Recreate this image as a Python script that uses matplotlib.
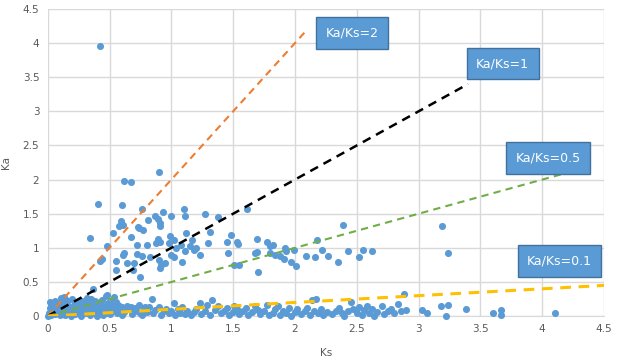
import numpy as np
import matplotlib
matplotlib.use("Agg")
import matplotlib.pyplot as plt
from matplotlib.ticker import MultipleLocator, FormatStrFormatter

# (Ks, Ka) points
# upper cloud, Ka roughly 0.6 - 4
high_points = [
    (0.42, 3.96), (0.90, 2.11), (0.62, 1.98), (0.67, 1.97),
    (0.41, 1.64), (0.60, 1.63), (0.76, 1.57), (0.34, 1.15),
    (0.59, 1.39), (0.61, 1.34), (0.58, 1.32), (0.53, 1.22),
    (0.48, 1.03), (0.44, 0.83), (0.42, 0.81), (0.55, 0.81),
    (0.55, 0.68), (0.62, 0.93), (0.61, 0.90), (0.64, 0.78),
    (0.67, 1.16), (0.72, 1.04), (0.73, 1.31), (0.74, 1.29),
    (0.77, 1.26), (0.72, 0.91), (0.76, 0.88), (0.70, 0.78),
    (0.69, 0.68), (0.75, 0.57), (0.81, 1.41), (0.80, 1.04),
    (0.83, 0.86), (0.87, 1.47), (0.89, 1.42), (0.91, 1.36),
    (0.91, 1.32), (0.93, 1.53), (1.00, 1.47), (0.89, 1.13),
    (0.91, 1.08), (0.88, 1.07), (0.90, 0.82), (0.92, 0.75),
    (0.91, 0.70), (0.95, 0.78), (0.98, 1.07), (0.99, 1.17),
    (1.02, 1.12), (1.04, 1.00), (1.00, 0.90), (1.02, 0.86),
    (1.10, 1.57), (1.11, 1.47), (1.08, 1.04), (1.09, 0.80),
    (1.12, 1.22), (1.11, 0.95), (1.15, 1.03), (1.17, 1.12),
    (1.18, 0.97), (1.20, 1.00), (1.23, 0.90), (1.27, 1.49),
    (1.30, 1.07), (1.31, 1.23), (1.38, 1.45), (1.48, 1.19),
    (1.45, 1.09), (1.46, 0.93), (1.53, 1.09), (1.54, 1.05),
    (1.51, 0.75), (1.55, 0.75), (1.61, 1.57), (1.69, 1.13),
    (1.69, 0.94), (1.68, 0.92), (1.70, 0.64), (1.77, 1.09),
    (1.80, 1.03), (1.82, 1.04), (1.80, 0.93), (1.84, 0.90),
    (1.88, 0.88), (1.91, 0.83), (1.92, 1.00), (1.93, 0.95),
    (1.97, 0.80), (1.99, 0.97), (2.01, 0.74), (2.09, 0.88),
    (2.16, 0.86), (2.18, 1.12), (2.39, 1.34), (2.22, 0.97),
    (2.27, 0.88), (2.35, 0.80), (2.43, 0.95), (2.52, 0.86),
    (2.55, 0.97), (2.62, 0.95), (3.19, 1.32), (3.24, 0.93),
]

# lower band, Ka roughly 0 - 0.4
low_points = [
    (0.00, 0.00), (0.01, 0.05), (0.02, 0.12), (0.02, 0.21), (0.03, 0.02),
    (0.04, 0.08), (0.05, 0.15), (0.06, 0.03), (0.07, 0.10), (0.08, 0.18),
    (0.09, 0.05), (0.10, 0.13), (0.10, 0.01), (0.11, 0.26), (0.12, 0.07),
    (0.13, 0.28), (0.13, 0.16), (0.14, 0.02), (0.15, 0.10), (0.16, 0.20),
    (0.17, 0.05), (0.18, 0.13), (0.19, 0.00), (0.20, 0.25), (0.20, 0.09),
    (0.21, 0.17), (0.22, 0.03), (0.23, 0.12), (0.24, 0.21), (0.25, 0.06),
    (0.26, 0.15), (0.27, 0.00), (0.28, 0.10), (0.29, 0.19), (0.30, 0.04),
    (0.31, 0.13), (0.32, 0.26), (0.32, 0.08), (0.33, 0.20), (0.34, 0.02),
    (0.35, 0.16), (0.36, 0.11), (0.37, 0.40), (0.37, 0.05), (0.38, 0.22),
    (0.39, 0.14), (0.40, 0.00), (0.40, 0.09), (0.41, 0.18), (0.42, 0.06),
    (0.43, 0.12), (0.44, 0.24), (0.45, 0.02), (0.46, 0.15), (0.47, 0.29),
    (0.47, 0.08), (0.48, 0.31), (0.49, 0.19), (0.50, 0.11), (0.50, 0.03),
    (0.51, 0.16), (0.52, 0.07), (0.53, 0.22), (0.54, 0.28), (0.55, 0.12),
    (0.56, 0.04), (0.57, 0.17), (0.58, 0.09), (0.60, 0.13), (0.60, 0.01),
    (0.62, 0.06), (0.64, 0.15), (0.66, 0.10), (0.68, 0.03), (0.70, 0.12),
    (0.72, 0.07), (0.74, 0.16), (0.76, 0.02), (0.78, 0.11), (0.80, 0.06),
    (0.82, 0.13), (0.84, 0.25), (0.85, 0.04), (0.87, 0.09), (0.90, 0.14),
    (0.92, 0.02), (0.94, 0.07), (0.96, 0.11), (0.98, 0.04), (1.00, 0.08),
    (1.02, 0.19), (1.03, 0.02), (1.05, 0.10), (1.07, 0.05), (1.09, 0.13),
    (1.11, 0.03), (1.13, 0.08), (1.16, 0.01), (1.18, 0.06), (1.20, 0.10),
    (1.23, 0.19), (1.24, 0.03), (1.27, 0.07), (1.29, 0.16), (1.31, 0.02),
    (1.33, 0.24), (1.35, 0.09), (1.38, 0.15), (1.40, 0.04), (1.43, 0.08),
    (1.45, 0.12), (1.47, 0.01), (1.50, 0.06), (1.51, 0.15), (1.53, 0.10),
    (1.55, 0.03), (1.58, 0.08), (1.60, 0.12), (1.62, 0.02), (1.65, 0.06),
    (1.68, 0.15), (1.70, 0.09), (1.72, 0.03), (1.75, 0.07), (1.77, 0.16),
    (1.79, 0.01), (1.82, 0.05), (1.84, 0.11), (1.86, 0.15), (1.88, 0.02),
    (1.90, 0.08), (1.93, 0.04), (1.95, 0.12), (1.97, 0.00), (2.00, 0.06),
    (2.02, 0.10), (2.05, 0.03), (2.08, 0.08), (2.10, 0.12), (2.12, 0.02),
    (2.14, 0.23), (2.15, 0.07), (2.17, 0.25), (2.19, 0.04), (2.21, 0.10),
    (2.23, 0.01), (2.26, 0.06), (2.30, 0.03), (2.33, 0.08), (2.36, 0.12),
    (2.38, 0.04), (2.40, 0.00), (2.43, 0.07), (2.45, 0.21), (2.47, 0.10),
    (2.50, 0.05), (2.52, 0.13), (2.54, 0.02), (2.56, 0.09), (2.58, 0.15),
    (2.60, 0.04), (2.62, 0.11), (2.64, 0.00), (2.66, 0.06), (2.70, 0.15),
    (2.72, 0.03), (2.75, 0.07), (2.78, 0.10), (2.80, 0.05), (2.83, 0.18),
    (2.86, 0.08), (2.88, 0.32), (2.90, 0.09), (3.03, 0.09), (3.07, 0.05),
    (3.18, 0.15), (3.22, 0.00), (3.24, 0.16), (3.38, 0.10), (3.60, 0.05),
    (3.67, 0.09), (3.67, 0.01), (4.10, 0.04),
    # extra points in the dense blob near the origin
    (0.03, 0.17), (0.06, 0.22), (0.09, 0.11), (0.12, 0.19), (0.15, 0.23),
    (0.18, 0.08), (0.22, 0.20), (0.25, 0.12), (0.28, 0.22), (0.30, 0.16),
    (0.33, 0.12), (0.35, 0.25), (0.38, 0.07), (0.42, 0.21), (0.45, 0.10),
    (0.49, 0.05), (0.52, 0.13), (0.55, 0.20), (0.58, 0.15), (0.63, 0.11),
    (0.67, 0.14), (0.71, 0.09), (0.75, 0.05), (0.79, 0.14),
]

# reference lines Ka = r * Ks
ratios = [2, 1, 0.5, 0.1]
line_end_ks = [2.1, 3.4, 4.15, 4.5]
line_colors = ["#ED7D31", "#000000", "#70AD47", "#FFC000"]
line_widths = [1.5, 1.8, 1.5, 2.2]

# label boxes (centre in data units)
labels = ["Ka/Ks=2", "Ka/Ks=1", "Ka/Ks=0.5", "Ka/Ks=0.1"]
label_ks = [2.46, 3.68, 4.05, 4.14]
label_ka = [4.15, 3.70, 2.32, 0.81]

points = np.array(high_points + low_points)

fig = plt.figure(figsize=(6.17, 3.58), dpi=100)
ax = fig.add_axes([0.0773, 0.117, 0.9017, 0.858])

ax.scatter(points[:, 0], points[:, 1], s=26, color="#5B9BD5", linewidths=0,
           zorder=3, clip_on=False)

for r, xe, c, lw in zip(ratios, line_end_ks, line_colors, line_widths):
    xs = np.array([0, xe])
    ax.plot(xs, r * xs, linestyle=(0, (3.5, 2.5)), color=c, linewidth=lw, zorder=4)

for text, x, y in zip(labels, label_ks, label_ka):
    ax.text(x, y, text, color="white", fontsize=9, ha="center", va="center", zorder=5,
            bbox=dict(boxstyle="square,pad=0.75", facecolor="#5B9BD5", edgecolor="#41719C", linewidth=1))

ax.set_xlim(0, 4.5)
ax.set_ylim(0, 4.5)
ax.xaxis.set_major_locator(MultipleLocator(0.5))
ax.yaxis.set_major_locator(MultipleLocator(0.5))
ax.xaxis.set_major_formatter(FormatStrFormatter("%g"))
ax.yaxis.set_major_formatter(FormatStrFormatter("%g"))
ax.grid(True, color="#D9D9D9", linewidth=1)
ax.set_axisbelow(True)
for side in ["top", "right", "left"]:
    ax.spines[side].set_visible(False)
ax.spines["bottom"].set_color("#D9D9D9")
ax.tick_params(length=0, labelsize=7.5, labelcolor="#595959", pad=6)

ax.set_xlabel("Ks", fontsize=7.5, color="#595959")
ax.set_ylabel("Ka", fontsize=7.5, color="#595959")
ax.xaxis.set_label_coords(0.5, -0.105)
ax.yaxis.set_label_coords(-0.066, 0.5)

fig.savefig("out.png", dpi=100)
